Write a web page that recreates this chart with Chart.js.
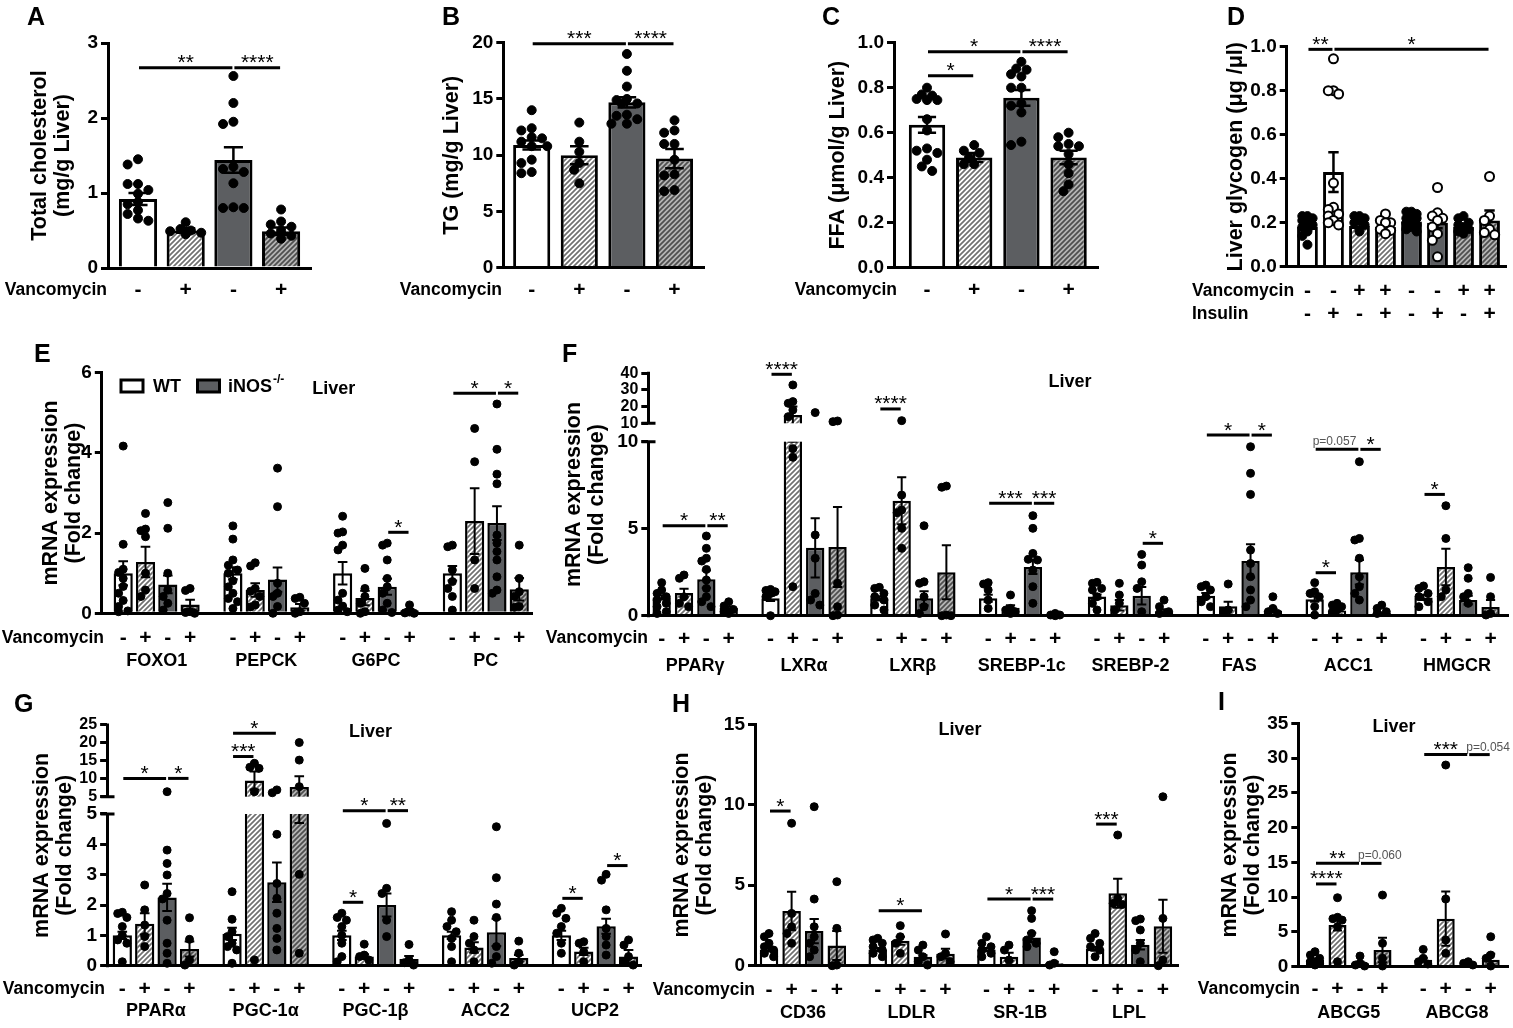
<!DOCTYPE html>
<html>
<head>
<meta charset="utf-8">
<title>Liver metabolism panels</title>
<script src="https://cdn.jsdelivr.net/npm/chart.js@4.4.1/dist/chart.umd.min.js"></script>
<style>
  html, body { margin:0; padding:0; background:#fff; }
  #wrap { position:relative; width:1513px; height:1028px; overflow:hidden; background:#fff; }
  #wrap canvas { position:absolute; left:0; top:0; }
</style>
</head>
<body>
<div id="wrap"></div>
<script>
// ================= DATA =================
const vanco4 = ['-', '+', '-', '+'];

// ---- A: Total cholesterol ----
const titleA = ['Total cholesterol', '(mg/g Liver)'];
const ticksA = [0, 1, 2, 3];
const meanA = [0.92, 0.50, 1.44, 0.49];
const semA = [0.08, 0.03, 0.17, 0.05];
const ptsA = [
  [1.45, 1.38, 1.12, 1.12, 1.04, 0.99, 0.88, 0.85, 0.77, 0.72, 0.66, 0.63],
  [0.61, 0.52, 0.50, 0.49, 0.47, 0.45],
  [2.56, 2.20, 1.95, 1.92, 1.35, 1.32, 1.28, 1.13, 0.81, 0.80, 0.80],
  [0.78, 0.62, 0.58, 0.55, 0.50, 0.46, 0.43, 0.39]
];
const sigA = [[0, 0, 2, 2.67, '**'], [0, 2, 3, 2.67, '****']];

// ---- B: TG ----
const titleB = 'TG (mg/g Liver)';
const ticksB = [0, 5, 10, 15, 20];
const meanB = [10.9, 10.0, 14.7, 9.7];
const semB = [0.4, 0.8, 0.45, 0.85];
const ptsB = [
  [14.0, 12.4, 12.2, 11.6, 11.5, 11.2, 10.8, 10.8, 9.6, 9.3, 8.5, 8.4],
  [12.9, 11.2, 10.3, 9.3, 8.7, 7.5],
  [19.0, 17.5, 16.1, 15.0, 14.9, 14.6, 14.6, 13.6, 13.5, 13.2, 12.8, 12.8],
  [13.1, 12.2, 12.0, 11.0, 11.0, 9.6, 8.3, 8.2, 6.9, 6.8]
];
const sigB = [[0, 0, 2, 19.9, '***'], [0, 2, 3, 19.9, '****']];

// ---- C: FFA ----
const titleC = 'FFA (\u03bcmol/g Liver)';
const ticksC = [0, 0.2, 0.4, 0.6, 0.8, 1.0];
const meanC = [0.635, 0.49, 0.755, 0.49];
const semC = [0.035, 0.02, 0.035, 0.03];
const ptsC = [
  [0.80, 0.77, 0.765, 0.75, 0.745, 0.745, 0.66, 0.61, 0.53, 0.52, 0.51, 0.48, 0.45, 0.43],
  [0.545, 0.52, 0.51, 0.49, 0.46, 0.46],
  [0.915, 0.885, 0.88, 0.86, 0.85, 0.80, 0.80, 0.73, 0.72, 0.69, 0.56, 0.545],
  [0.60, 0.58, 0.55, 0.54, 0.54, 0.505, 0.46, 0.42, 0.37, 0.34]
];
const sigC = [[0, 0, 2, 0.96, '*'], [0, 2, 3, 0.96, '****'], [0, 0, 1, 0.853, '*']];

// ---- D: Liver glycogen ----
const titleD = 'Liver glycogen (\u03bcg /\u03bcl)';
const ticksD = [0, 0.2, 0.4, 0.6, 0.8, 1.0];
const vancoD = ['-', '-', '+', '+', '-', '-', '+', '+'];
const insulinD = ['-', '+', '-', '+', '-', '+', '-', '+'];
const meanD = [0.18, 0.43, 0.185, 0.18, 0.205, 0.20, 0.18, 0.21];
const semD = [0.01, 0.09, 0.01, 0.01, 0.01, 0.025, 0.01, 0.045];
const ptsD = [
  [0.23, 0.23, 0.22, 0.22, 0.21, 0.20, 0.19, 0.18, 0.16, 0.14, 0.10],
  [0.945, 0.80, 0.80, 0.785, 0.38, 0.27, 0.26, 0.24, 0.23, 0.21, 0.20, 0.19],
  [0.23, 0.23, 0.22, 0.21, 0.20, 0.19, 0.16],
  [0.24, 0.21, 0.20, 0.20, 0.17, 0.165, 0.15],
  [0.25, 0.25, 0.24, 0.23, 0.22, 0.22, 0.21, 0.20, 0.19, 0.18, 0.17, 0.16],
  [0.36, 0.245, 0.23, 0.22, 0.21, 0.18, 0.15, 0.12, 0.045],
  [0.23, 0.22, 0.20, 0.19, 0.18, 0.17, 0.16, 0.15],
  [0.41, 0.23, 0.21, 0.17, 0.155, 0.145]
];
const sigD = [[0, 0, 1, 0.988, '**'], [0, 1, 7, 0.988, '*']];

// ---- E: glucose metabolism genes ----
const titleMRNA = ['mRNA expression', '(Fold change)'];
const ticksE = [0, 2, 4, 6];
const genesE = ['FOXO1', 'PEPCK', 'G6PC', 'PC'];
const meanE = [[1.0, 1.28, 0.72, 0.22], [1.0, 0.58, 0.84, 0.15], [1.0, 0.38, 0.66, 0.07], [1.0, 2.3, 2.25, 0.6]];
const semE = [[0.3, 0.38, 0.22, 0.12], [0.15, 0.17, 0.3, 0.08], [0.28, 0.18, 0.2, 0.04], [0.18, 0.82, 0.42, 0.28]];
const ptsE = [
  [[4.17, 1.72, 1.10, 1.02, 0.87, 0.67, 0.50, 0.32, 0.17, 0.06, 0.04], [2.49, 2.10, 2.06, 1.91, 1.0, 0.58, 0.42], [2.76, 2.12, 1.0, 0.58, 0.42, 0.25, 0.08], [0.62, 0.57, 0.04, 0.02, 0.0]],
  [[2.18, 1.85, 1.33, 1.20, 1.08, 1.0, 0.81, 0.66, 0.50, 0.37, 0.29, 0.12], [1.26, 1.18, 0.62, 0.55, 0.42, 0.21, 0.16], [3.62, 2.66, 0.75, 0.50, 0.42, 0.17, 0.0], [0.40, 0.37, 0.25, 0.04, 0.0]],
  [[2.42, 2.03, 2.0, 1.70, 1.58, 0.50, 0.33, 0.18, 0.08, 0.04], [1.12, 0.62, 0.42, 0.25, 0.04, 0.0], [1.75, 1.70, 1.33, 0.87, 0.66, 0.50, 0.25, 0.08, 0.02], [0.21, 0.03, 0.01, 0.0]],
  [[1.70, 1.66, 1.08, 0.79, 0.62, 0.42, 0.08], [4.61, 3.78, 1.33, 0.62], [5.22, 4.09, 3.47, 3.23, 1.95, 1.75, 1.54, 1.33, 0.91, 0.58, 0.50], [1.70, 0.87, 0.54, 0.42, 0.17, 0.15]]
];
const sigE = [[2, 2, 3, 2.02, '*'], [3, 0, 2, 5.49, '*'], [3, 2, 3, 5.49, '*']];

// ---- F: lipogenesis genes (broken axis 0-10 / 10-40) ----
const ticksF = [0, 5, 10];
const ticksFHi = [10, 20, 30, 40];
const genesF = ['PPAR\u03b3', 'LXR\u03b1', 'LXR\u03b2', 'SREBP-1c', 'SREBP-2', 'FAS', 'ACC1', 'HMGCR'];
const meanF = [[1.05, 1.3, 2.1, 0.45], [1.0, 15.0, 3.9, 3.95], [1.0, 6.6, 1.0, 2.5], [1.0, 0.45, 2.8, 0.05], [1.1, 0.6, 1.15, 0.25], [1.15, 0.55, 3.15, 0.3], [0.95, 0.3, 2.5, 0.15], [1.05, 2.8, 0.9, 0.5]];
const semF = [[0.12, 0.25, 0.5, 0.08], [0.15, 5.0, 1.7, 2.3], [0.12, 1.35, 0.4, 1.55], [0.2, 0.15, 0.4, 0.02], [0.12, 0.3, 0.5, 0.12], [0.15, 0.25, 0.95, 0.1], [0.15, 0.05, 0.7, 0.05], [0.15, 1.05, 0.25, 0.4]];
const ptsF = [
  [[1.90, 1.48, 1.28, 1.09, 0.90, 0.71, 0.52, 0.23, 0.13], [2.34, 2.15, 1.09, 0.71, 0.52], [4.58, 3.87, 3.30, 3.14, 2.66, 2.05, 1.57, 1.09, 0.80, 0.52], [0.80, 0.56, 0.36, 0.23, 0.13]],
  [[1.51, 1.45, 1.38, 1.28, 1.09, 0.0], [33, 23, 22, 18, 14, 9.6, 9.1, 1.67], [16.4, 4.64, 3.30, 1.28, 0.90, 0.61], [11.4, 11.0, 1.86, 0.52, 0.04, 0.0]],
  [[1.63, 1.57, 1.28, 1.09, 0.90, 0.61, 0.33], [11.6, 6.93, 6.07, 5.92, 5.02, 3.87], [5.17, 1.95, 1.86, 1.09, 0.52, 0.13], [7.45, 7.38, 0.04, 0.0, 0.0]],
  [[1.90, 1.82, 1.48, 0.90, 0.42], [1.19, 0.42, 0.33, 0.23, 0.13], [5.75, 5.02, 3.58, 3.24, 3.20, 2.62, 1.67, 0.71], [0.13, 0.04, 0.04, 0.0]],
  [[1.92, 1.86, 1.57, 1.48, 1.09, 0.71, 0.33], [1.86, 1.19, 0.71, 0.33], [3.52, 2.91, 1.95, 1.57, 0.23], [0.90, 0.52, 0.23, 0.13]],
  [[1.76, 1.67, 1.48, 1.09, 0.80, 0.52], [1.82, 0.33, 0.23], [9.71, 8.18, 6.97, 3.77, 3.0, 2.24, 1.48, 0.90, 0.52], [1.09, 0.42, 0.23, 0.13]],
  [[1.90, 1.38, 1.28, 1.09, 0.52, 0.04], [0.71, 0.61, 0.52, 0.33, 0.23], [8.85, 4.44, 4.35, 3.30, 2.24, 1.67, 1.28, 0.90], [0.61, 0.42, 0.23, 0.13]],
  [[1.71, 1.57, 1.28, 1.09, 0.80, 0.52], [6.32, 4.44, 1.48, 1.09], [2.76, 2.15, 1.28, 1.09, 0.71], [2.20, 1.09, 0.13, 0.04]]
];
const sigF = [[0, 0, 2, 5.17, '*'], [0, 2, 3, 5.17, '**'], [1, 0, 1, 39.4, '****'], [2, 0, 1, 18.6, '****'], [3, 0, 2, 6.46, '***'], [3, 2, 3, 6.46, '***'], [4, 2, 3, 4.16, '*'], [5, 0, 2, 10.38, '*'], [5, 2, 3, 10.38, '*'], [6, 0, 2, 9.56, 'p=0.057'], [6, 2, 3, 9.56, '*'], [6, 0, 1, 2.47, '*'], [7, 0, 1, 6.97, '*']];

// ---- G: fatty-acid oxidation genes (broken axis 0-5 / 5-25) ----
const ticksG = [0, 1, 2, 3, 4, 5];
const ticksGHi = [5, 10, 15, 20, 25];
const genesG = ['PPAR\u03b1', 'PGC-1\u03b1', 'PGC-1\u03b2', 'ACC2', 'UCP2'];
const meanG = [[1.0, 1.38, 2.25, 0.55], [1.05, 9.5, 2.75, 7.7], [1.0, 0.3, 2.0, 0.22], [1.0, 0.6, 1.1, 0.25], [1.0, 0.47, 1.3, 0.3]];
const semG = [[0.12, 0.35, 0.45, 0.25], [0.2, 2.5, 0.65, 3.0], [0.15, 0.08, 0.38, 0.1], [0.12, 0.17, 0.45, 0.1], [0.15, 0.12, 0.25, 0.22]];
const ptsG = [
  [[1.76, 1.72, 1.59, 1.29, 1.0, 0.85, 0.74, 0.13], [2.66, 1.84, 1.34, 0.96, 0.63], [6.4, 3.81, 3.37, 2.99, 2.38, 2.2, 1.50, 0.74, 0.41, 0.08], [1.58, 0.87, 0.19, 0.02]],
  [[2.44, 1.53, 1.12, 0.96, 0.74, 0.63, 0.52, 0.08], [14.3, 13.2, 12.9, 6.4, 0.19], [6.9, 6.1, 4.33, 2.71, 2.22, 1.73, 1.23, 0.90, 0.52], [20.1, 15.2, 7.8, 3.01, 0.41]],
  [[1.73, 1.59, 1.50, 1.29, 1.0, 0.74, 0.30, 0.13], [0.71, 0.35, 0.30, 0.19], [4.69, 2.55, 2.38, 1.50, 0.96], [0.70, 0.19, 0.10, 0.02]],
  [[1.78, 1.50, 1.29, 1.12, 0.90, 0.63, 0.13], [1.50, 0.96, 0.74, 0.52, 0.13], [4.58, 2.90, 2.03, 1.59, 0.63, 0.30, 0.08], [0.81, 0.41, 0.13, 0.02]],
  [[1.89, 1.73, 1.56, 1.29, 1.07, 0.74, 0.41], [0.79, 0.74, 0.46, 0.13], [3.01, 2.82, 1.84, 1.23, 0.96, 0.68, 0.35], [0.85, 0.68, 0.30, 0.13, 0.02]]
];
const sigG = [[0, 0, 2, 10.1, '*'], [0, 2, 3, 10.1, '*'], [1, 0, 2, 22.7, '*'], [1, 0, 1, 16.2, '***'], [2, 0, 2, 5.11, '*'], [2, 2, 3, 5.11, '**'], [2, 0, 1, 2.09, '*'], [4, 0, 1, 2.22, '*'], [4, 2, 3, 3.3, '*']];

// ---- H: lipid uptake genes ----
const ticksH = [0, 5, 10, 15];
const genesH = ['CD36', 'LDLR', 'SR-1B', 'LPL'];
const meanH = [[1.0, 3.4, 2.15, 1.25], [1.0, 1.55, 0.55, 0.75], [1.0, 0.55, 1.75, 0.15], [1.05, 4.5, 1.3, 2.45]];
const semH = [[0.12, 1.2, 0.75, 0.9], [0.1, 0.25, 0.1, 0.3], [0.1, 0.25, 0.3, 0.1], [0.12, 0.9, 0.3, 1.65]];
const ptsH = [
  [[2.0, 1.80, 1.39, 1.18, 0.97, 0.77, 0.56], [8.85, 3.25, 2.42, 2.0, 1.39], [9.88, 4.14, 2.42, 1.80, 1.39, 0.97, 0.56], [5.22, 2.32, 0.04, 0.0]],
  [[1.70, 1.60, 1.39, 1.18, 0.97, 0.77, 0.56], [2.49, 1.80, 1.39, 0.77], [1.28, 0.97, 0.56, 0.25, 0.04], [1.97, 0.77, 0.56, 0.25]],
  [[1.80, 1.39, 1.18, 0.97, 0.77, 0.56], [1.28, 0.97, 0.35], [3.42, 2.94, 2.0, 1.60, 1.39, 1.18], [0.87, 0.15, 0.04]],
  [[2.0, 1.70, 1.39, 1.18, 0.97, 0.56], [8.12, 4.18, 3.87, 3.80], [2.90, 2.80, 2.22, 1.39, 0.97, 0.25], [10.5, 2.94, 0.35, 0.0]]
];
const sigH = [[0, 0, 1, 9.61, '*'], [1, 0, 2, 3.42, '*'], [2, 0, 2, 4.14, '*'], [2, 2, 3, 4.14, '***'], [3, 0, 1, 8.8, '***']];

// ---- I: cholesterol efflux genes ----
const ticksI = [0, 5, 10, 15, 20, 25, 30, 35];
const genesI = ['ABCG5', 'ABCG8'];
const meanI = [[1.0, 6.0, 0.5, 2.4], [1.0, 6.9, 0.3, 1.0]];
const semI = [[0.2, 0.8, 0.2, 1.75], [0.3, 3.9, 0.08, 0.85]];
const ptsI = [
  [[2.16, 1.68, 1.20, 0.72, 0.48, 0.24], [9.92, 7.1, 6.9, 6.7, 5.75, 0.72], [1.53, 0.48, 0.24, 0.1], [10.3, 3.36, 1.2, 0.1]],
  [[2.49, 1.2, 0.72, 0.38], [29.0, 9.73, 3.84, 1.92], [0.72, 0.48, 0.24], [4.31, 1.68, 1.2, 0.1]]
];
const sigI = [[0, 0, 1, 11.9, '****'], [0, 0, 2, 14.86, '**'], [0, 2, 3, 14.86, 'p=0.060'], [1, 0, 2, 30.5, '***'], [1, 2, 3, 30.5, 'p=0.054']];

// ================= STYLE =================
const FONT = "'Liberation Sans', Arial, Helvetica, sans-serif";
Chart.defaults.font.family = FONT;
Chart.defaults.color = '#000';

function hatch(bg, fg) {
  const s = 5;
  const c = document.createElement('canvas'); c.width = s; c.height = s;
  const x = c.getContext('2d');
  x.fillStyle = bg; x.fillRect(0, 0, s, s);
  x.strokeStyle = fg; x.lineWidth = 1.7;
  x.beginPath();
  x.moveTo(-1, s + 1); x.lineTo(s + 1, -1);
  x.moveTo(-s / 2 - 1, s / 2 + 1); x.lineTo(s / 2 + 1, -s / 2 - 1);
  x.moveTo(s / 2 - 1, s * 1.5 + 1); x.lineTo(s * 1.5 + 1, s / 2 - 1);
  x.stroke();
  return x.createPattern(c, 'repeat');
}
const WHITE = '#ffffff', DARK = '#5c5e61';
const HATCH_L = hatch('#ffffff', '#707070');
const HATCH_D = hatch('#b4b4b4', '#4e4e4e');
const FILL4 = [WHITE, HATCH_L, DARK, HATCH_D];
const FILLD = [WHITE, WHITE, HATCH_L, HATCH_L, DARK, DARK, HATCH_D, HATCH_D];
const OPEN_D = [false, true, false, true, false, true, false, true];

// ================= PANEL LAYOUT =================
const PANELS = [
  {id: 'A', letter: [27, 25], axisX: 108, xRight: 311, yTop: 43, yZero: 268, ymax: 3, ticks: ticksA, dec: 0,
   firstC: 138, spacing: 47.7, stride: 0, barPct: 0.8, bw: 3, ebw: 2.5, r: 4.5,
   title: titleA, titleX: 40, vanco: [107, 290, 'right'], signY: 290, signs: vanco4,
   means: [meanA], sems: [semA], pts: [ptsA], sig: sigA, fills: FILL4},
  {id: 'B', letter: [442, 25], axisX: 503.3, xRight: 704, yTop: 42.7, yZero: 267.7, ymax: 20, ticks: ticksB, dec: 0,
   firstC: 531.7, spacing: 47.6, stride: 0, barPct: 0.78, bw: 3, ebw: 2.5, r: 4.5,
   title: titleB, titleX: 451.7, vanco: [502, 290, 'right'], signY: 290, signs: vanco4,
   means: [meanB], sems: [semB], pts: [ptsB], sig: sigB, fills: FILL4},
  {id: 'C', letter: [822, 25], axisX: 894, xRight: 1098, yTop: 42.7, yZero: 267.7, ymax: 1, ticks: ticksC, dec: 1,
   firstC: 927, spacing: 47.2, stride: 0, barPct: 0.77, bw: 3, ebw: 2.5, r: 4.5,
   title: titleC, titleX: 838.3, vanco: [897, 290, 'right'], signY: 290, signs: vanco4,
   means: [meanC], sems: [semC], pts: [ptsC], sig: sigC, fills: FILL4},
  {id: 'D', letter: [1227, 25], axisX: 1286.7, xRight: 1507, yTop: 46.7, yZero: 266.7, ymax: 1, ticks: ticksD, dec: 1,
   firstC: 1307.5, spacing: 26.07, stride: 0, barPct: 0.8, bw: 3, ebw: 2.5, r: 4.5,
   title: titleD, titleX: 1236, vanco: [1192, 291, 'left'], signY: 291, signs: vancoD,
   insulin: [1192, 314, 'left'], insY: 314, insSigns: insulinD,
   means: [meanD], sems: [semD], pts: [ptsD], sig: sigD, fills: FILLD, open: OPEN_D},
  {id: 'E', letter: [34, 362], axisX: 101.8, xRight: 532, yTop: 372.7, yZero: 613.3, ymax: 6, ticks: ticksE, dec: 0,
   firstC: 123.2, spacing: 22.3, stride: 4.92, barPct: 0.86, bw: 2.5, ebw: 2, r: 4,
   title: titleMRNA, titleX: 51, vanco: [104, 638, 'right'], signY: 638, signs: vanco4,
   genes: genesE, geneY: 661, liver: [333.7, 389.3], legend: true,
   means: meanE, sems: semE, pts: ptsE, sig: sigE, fills: FILL4},
  {id: 'F', letter: [562, 362], axisX: 648.3, xRight: 1510, yTop: 373.3, yZero: 615.7, ticks: ticksF, ticksHi: ticksFHi, dec: 0,
   brk: {lo: 10, hi: 11.057, f: 0.0958, max: 13.93},
   firstC: 661.7, spacing: 22.4, stride: 4.87, barPct: 0.82, bw: 2.5, ebw: 2, r: 4,
   title: titleMRNA, titleX: 574, vanco: [648, 638, 'right'], signY: 639, signs: vanco4,
   genes: genesF, geneY: 666, liver: [1070, 381.7],
   means: meanF, sems: semF, pts: ptsF, sig: sigF, fills: FILL4},
  {id: 'G', letter: [14, 712], axisX: 107.1, xRight: 641.7, yTop: 725, yZero: 965.7, ticks: ticksG, ticksHi: ticksGHi, dec: 0,
   brk: {lo: 5, hi: 5.570, f: 0.1182, max: 7.933},
   firstC: 122.3, spacing: 22.4, stride: 4.9, barPct: 0.86, bw: 2.5, ebw: 2, r: 4,
   title: titleMRNA, titleX: 42, vanco: [105, 989, 'right'], signY: 989, signs: vanco4,
   genes: genesG, geneY: 1011, liver: [370.5, 731.7],
   means: meanG, sems: semG, pts: ptsG, sig: sigG, fills: FILL4},
  {id: 'H', letter: [672, 712], axisX: 755, xRight: 1178, yTop: 724.3, yZero: 965.7, ymax: 15, ticks: ticksH, dec: 0,
   firstC: 769, spacing: 22.6, stride: 4.81, barPct: 0.82, bw: 2.5, ebw: 2, r: 4,
   title: titleMRNA, titleX: 681.7, vanco: [755, 990, 'right'], signY: 990, signs: vanco4,
   genes: genesH, geneY: 1013, liver: [960, 730],
   means: meanH, sems: semH, pts: ptsH, sig: sigH, fills: FILL4},
  {id: 'I', letter: [1218, 710], axisX: 1298.3, xRight: 1508, yTop: 723.3, yZero: 966.7, ymax: 35, ticks: ticksI, dec: 0,
   firstC: 1315, spacing: 22.5, stride: 4.81, barPct: 0.8, bw: 2.5, ebw: 2, r: 4,
   title: titleMRNA, titleX: 1230, vanco: [1300, 989, 'right'], signY: 989, signs: vanco4,
   genes: genesI, geneY: 1013, liver: [1394, 726.7],
   means: meanI, sems: semI, pts: ptsI, sig: sigI, fills: FILL4}
];

// ================= HELPERS =================
function swarm(vals, ppuY, barW, r) {
  const idx = vals.map((v, i) => i).sort((a, b) => vals[b] - vals[a]);
  const lim = Math.max(0, barW / 2 - r * 0.6);
  const step = r * 1.15;
  const cands = [0];
  for (let k = 1; k * step <= lim + 0.01; k++) cands.push(-k * step, k * step);
  const placed = [], offs = new Array(vals.length).fill(0);
  for (const i of idx) {
    const y = vals[i] * ppuY;
    let best = 0, bestD = -1;
    for (const c of cands) {
      let md = Infinity;
      for (const p of placed) md = Math.min(md, Math.hypot(p[0] - c, p[1] - y));
      if (md >= 2 * r * 0.9) { best = c; bestD = md; break; }
      if (md > bestD) { bestD = md; best = c; }
    }
    placed.push([best, y]);
    offs[i] = best;
  }
  return offs;
}
function txt(ctx, s, x, y, font, align, base, color) {
  ctx.font = font;
  ctx.textAlign = align || 'center';
  ctx.textBaseline = base || 'middle';
  ctx.fillStyle = color || '#000';
  ctx.fillText(s, x, y);
}

// ================= BUILD =================
function buildPanel(P) {
  const cv = document.createElement('canvas');
  cv.width = 1513; cv.height = 1028;
  document.getElementById('wrap').appendChild(cv);
  const brk = P.brk || null;
  const up = v => brk.hi + (v - brk.lo) * brk.f;
  const fwd = v => (!brk || v <= brk.lo) ? v : up(v);
  const annY = v => (!brk || v <= brk.lo) ? v : (v < brk.hi ? v : up(v));
  const nG = P.means.length, nB = P.means[0].length;
  const pos = (g, b) => g * P.stride + b;
  const ymaxD = brk ? brk.max : P.ymax;
  const ppuY = (P.yZero - P.yTop) / ymaxD;
  const barW = P.spacing * P.barPct;

  const bars = [], fills = [], pts = [], pbg = [], pbw = [], flatM = [], flatS = [];
  for (let g = 0; g < nG; g++) {
    for (let b = 0; b < nB; b++) {
      const m = P.means[g][b];
      bars.push({x: pos(g, b), y: fwd(m)});
      fills.push(P.fills[b]);
      flatM.push(m); flatS.push(P.sems[g][b]);
      const vals = P.pts[g][b].map(fwd);
      const offs = swarm(vals, ppuY, barW, P.r);
      const open = P.open && P.open[b];
      vals.forEach((v, i) => {
        pts.push({x: pos(g, b) + offs[i] / P.spacing, y: v});
        pbg.push(open ? '#ffffff' : '#000000');
        pbw.push(open ? 2 : 1);
      });
    }
  }
  const tv = P.ticks.slice();
  const tl = P.ticks.map(v => v.toFixed(P.dec));
  const nLow = tv.length;
  if (brk) P.ticksHi.forEach(v => { tv.push(up(v)); tl.push(v.toFixed(P.dec)); });

  const xmin = -(P.firstC - P.axisX) / P.spacing;
  const xmax = xmin + (P.xRight - P.axisX) / P.spacing;
  const LH = 23;
  const titleLeft = P.titleX - LH / 2;

  const deco = {
    id: 'deco' + P.id,
    afterDatasetDraw(chart, args) {
      if (args.meta.type !== 'bar') return;
      const ctx = chart.ctx, ys = chart.scales.y, ca = chart.chartArea;
      ctx.save();
      ctx.strokeStyle = '#000'; ctx.lineWidth = P.ebw; ctx.lineCap = 'butt';
      args.meta.data.forEach((el, i) => {
        const m = flatM[i], s = flatS[i];
        const yT = ys.getPixelForValue(fwd(m + s));
        const yB = ys.getPixelForValue(fwd(Math.max(0, m - s)));
        const cap = el.width * 0.25;
        ctx.beginPath();
        ctx.moveTo(el.x, yB); ctx.lineTo(el.x, yT);
        ctx.moveTo(el.x - cap, yT); ctx.lineTo(el.x + cap, yT);
        ctx.moveTo(el.x - cap, yB); ctx.lineTo(el.x + cap, yB);
        ctx.stroke();
      });
      if (brk) {
        const yl = ys.getPixelForValue(brk.lo), yh = ys.getPixelForValue(brk.hi);
        ctx.fillStyle = '#ffffff';
        ctx.fillRect(ca.left + 2, yh, ca.right - ca.left, yl - yh);
      }
      ctx.restore();
    },
    afterDraw(chart) {
      const ctx = chart.ctx, xs = chart.scales.x, ys = chart.scales.y, ca = chart.chartArea;
      ctx.save();
      txt(ctx, P.id, P.letter[0], P.letter[1], 'bold 25px ' + FONT, 'left', 'alphabetic');
      if (brk) {
        const x = Math.round(ca.left - 1.5) + 1.5;
        const y0 = ys.getPixelForValue(0), yl = ys.getPixelForValue(brk.lo);
        const yh = ys.getPixelForValue(brk.hi), yt = ys.getPixelForValue(brk.max);
        ctx.strokeStyle = '#000'; ctx.lineWidth = 3;
        ctx.beginPath();
        ctx.moveTo(x, y0 + 1.5); ctx.lineTo(x, yl - 1.5);
        ctx.moveTo(x, yh + 1.5); ctx.lineTo(x, yt - 1.5);
        ctx.moveTo(x - 7, yl); ctx.lineTo(x + 7, yl);
        ctx.moveTo(x - 7, yh); ctx.lineTo(x + 7, yh);
        ctx.stroke();
      }
      txt(ctx, 'Vancomycin', P.vanco[0], P.vanco[1], 'bold 17.5px ' + FONT, P.vanco[2], 'middle');
      if (P.insulin) txt(ctx, 'Insulin', P.insulin[0], P.insulin[1], 'bold 17.5px ' + FONT, P.insulin[2], 'middle');
      for (let g = 0; g < nG; g++) {
        for (let b = 0; b < nB; b++) {
          const x = xs.getPixelForValue(pos(g, b));
          txt(ctx, P.signs[b], x, P.signY, 'bold 21px ' + FONT, 'center', 'middle');
          if (P.insSigns) txt(ctx, P.insSigns[b], x, P.insY, 'bold 21px ' + FONT, 'center', 'middle');
        }
        if (P.genes) {
          const cx = (xs.getPixelForValue(pos(g, 0)) + xs.getPixelForValue(pos(g, nB - 1))) / 2;
          txt(ctx, P.genes[g], cx, P.geneY, 'bold 18px ' + FONT, 'center', 'middle');
        }
      }
      if (P.liver) txt(ctx, 'Liver', P.liver[0], P.liver[1], 'bold 18px ' + FONT, 'center', 'middle');
      if (P.legend) {
        ctx.lineWidth = 3; ctx.strokeStyle = '#000';
        ctx.fillStyle = WHITE; ctx.fillRect(121, 380, 22, 12); ctx.strokeRect(121, 380, 22, 12);
        txt(ctx, 'WT', 153, 387, 'bold 18px ' + FONT, 'left', 'middle');
        ctx.fillStyle = DARK; ctx.fillRect(197.5, 380, 22, 12); ctx.strokeRect(197.5, 380, 22, 12);
        txt(ctx, 'iNOS', 228, 387, 'bold 18px ' + FONT, 'left', 'middle');
        ctx.font = 'bold 18px ' + FONT;
        const w = ctx.measureText('iNOS').width;
        txt(ctx, '-/-', 228 + w + 1, 380, 'bold 12px ' + FONT, 'left', 'middle');
      }
      ctx.strokeStyle = '#000'; ctx.lineWidth = 3; ctx.lineCap = 'butt';
      P.sig.forEach(([g, a, b, y, lab]) => {
        const x1 = xs.getPixelForValue(pos(g, a)) + 1;
        const x2 = xs.getPixelForValue(pos(g, b)) - 1;
        const yy = ys.getPixelForValue(annY(y));
        ctx.beginPath(); ctx.moveTo(x1, yy); ctx.lineTo(x2, yy); ctx.stroke();
        if (lab.charAt(0) === 'p') txt(ctx, lab, x1 - 3, yy - 4, '12px ' + FONT, 'left', 'alphabetic', '#555');
        else txt(ctx, lab, (x1 + x2) / 2, yy + 1.5, '21px ' + FONT, 'center', 'alphabetic');
      });
      ctx.restore();
    }
  };

  new Chart(cv, {
    type: 'bar',
    data: {
      datasets: [
        {type: 'bar', data: bars, backgroundColor: fills, borderColor: '#000', borderWidth: P.bw,
         categoryPercentage: 1, barPercentage: P.barPct, order: 2, clip: false},
        {type: 'scatter', data: pts, pointRadius: P.r, pointHoverRadius: P.r, pointBackgroundColor: pbg,
         pointBorderColor: '#000', pointBorderWidth: pbw, order: 1, clip: false}
      ]
    },
    options: {
      responsive: false, maintainAspectRatio: false, animation: false, events: [], devicePixelRatio: 1,
      layout: {padding: {left: titleLeft, top: P.yTop, right: 1513 - P.xRight, bottom: 1028 - P.yZero - 10}},
      plugins: {legend: {display: false}, tooltip: {enabled: false}, title: {display: false}},
      scales: {
        x: {
          type: 'linear', min: xmin, max: xmax, offset: false,
          afterBuildTicks: s => { s.ticks = []; },
          ticks: {display: false}, grid: {display: false},
          border: {display: true, width: 3, color: '#000', z: 1},
          afterFit: s => { s.height = 10; }
        },
        y: {
          type: 'linear', min: 0, max: ymaxD,
          afterBuildTicks: s => { s.ticks = tv.map(v => ({value: v})); },
          ticks: {
            autoSkip: false, padding: 3, color: '#000',
            font: c => ({size: (c.index >= nLow ? 16 : 19), weight: 'bold', family: FONT}),
            callback: (v, i) => tl[i]
          },
          grid: {display: true, drawOnChartArea: false, drawTicks: true, tickLength: 7, tickWidth: 3,
                 tickColor: '#000', lineWidth: 3, color: '#000'},
          border: {display: !brk, width: 3, color: '#000', z: 1},
          title: {display: true, text: P.title, font: {size: 21.5, weight: 'bold', lineHeight: 23 / 21.5, family: FONT}, color: '#000', padding: 0},
          afterFit: s => { s.width = P.axisX - titleLeft; }
        }
      }
    },
    plugins: [deco]
  });
}

PANELS.forEach(buildPanel);
</script>
</body>
</html>
